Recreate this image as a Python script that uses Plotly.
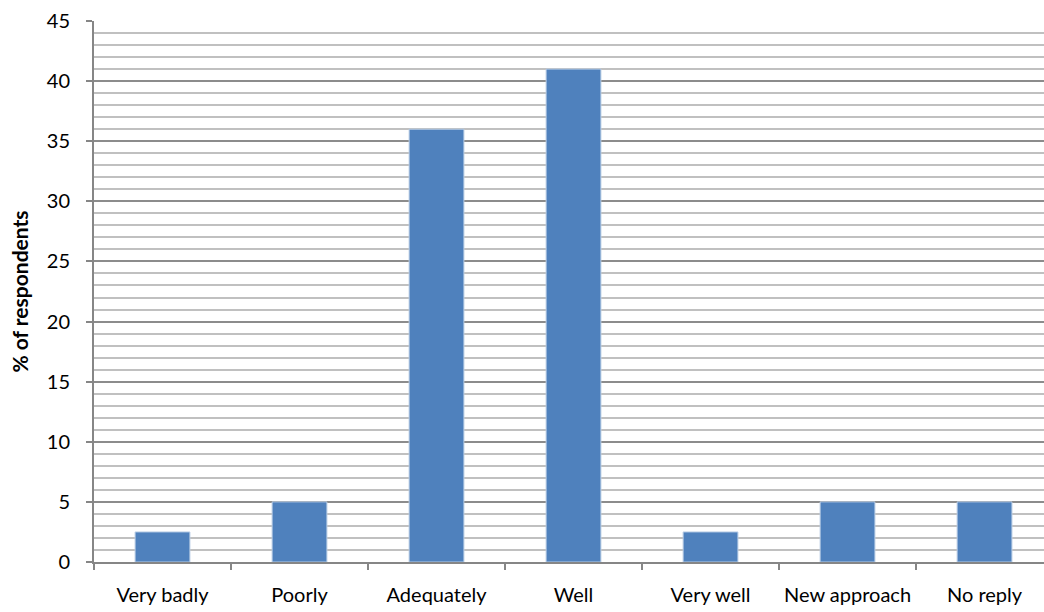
import plotly.graph_objects as go

categories = ["Very badly", "Poorly", "Adequately", "Well", "Very well", "New approach", "No reply"]
values = [2.5, 5, 36, 41, 2.5, 5, 5]
y_title = "% of respondents"

fig = go.Figure()
fig.add_trace(go.Bar(
    x=categories, y=values,
    marker=dict(color="#4F81BD", line=dict(color="#B9CDE5", width=1)),
    width=0.40,
))

font = dict(family="Lato, Open Sans, sans-serif", size=20, color="#000000")

fig.update_layout(
    width=1044, height=612,
    margin=dict(l=94, r=0, t=21, b=50),
    paper_bgcolor="white", plot_bgcolor="white",
    showlegend=False,
    font=font,
    xaxis=dict(
        showline=True, linecolor="#868686", linewidth=2,
        tickson="boundaries", ticks="outside", ticklen=6, tickcolor="#868686", tickwidth=2,
        showgrid=False, ticklabelstandoff=14, tickangle=0, automargin=False,
        range=[-0.5, 6.434],
    ),
    yaxis=dict(
        range=[0, 45], dtick=5, showline=True, linecolor="#868686", linewidth=2,
        ticks="outside", ticklen=6, tickcolor="#868686", tickwidth=2,
        showgrid=True, gridcolor="#8C8C8C", gridwidth=1.5,
        zeroline=False, ticklabelstandoff=12, automargin=False,
        minor=dict(dtick=1, showgrid=True, gridcolor="#C0C0C0", gridwidth=1.5),
        title=dict(text="<b>" + y_title + "</b>", font=dict(family="Lato, Open Sans, sans-serif", size=21), standoff=12),
    ),
)

fig.write_html("out.html")
